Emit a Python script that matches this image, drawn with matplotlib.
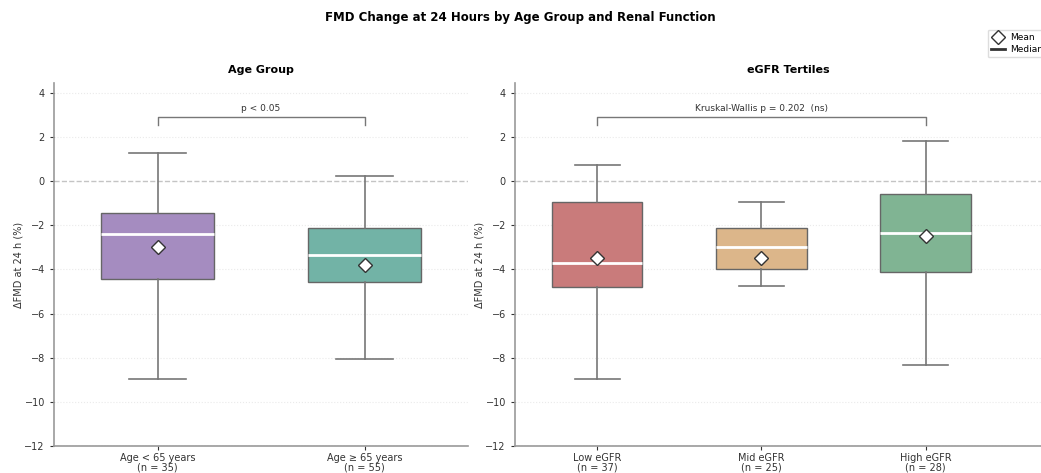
import matplotlib
matplotlib.use("Agg")
import matplotlib.pyplot as plt
from matplotlib.lines import Line2D

# ---- data ----
age_labels = ["Age < 65 years\n(n = 35)", "Age \u2265 65 years\n(n = 55)"]
age_whislo = [-8.95, -8.05]
age_q1 = [-4.45, -4.55]
age_med = [-2.4, -3.35]
age_q3 = [-1.45, -2.1]
age_whishi = [1.3, 0.25]
age_mean = [-3.0, -3.8]
age_colors = ["#a58cc0", "#72b3a6"]
age_ptext = "p < 0.05"

egfr_labels = ["Low eGFR\n(n = 37)", "Mid eGFR\n(n = 25)", "High eGFR\n(n = 28)"]
egfr_whislo = [-8.95, -4.75, -8.35]
egfr_q1 = [-4.8, -4.0, -4.1]
egfr_med = [-3.7, -3.0, -2.35]
egfr_q3 = [-0.95, -2.1, -0.6]
egfr_whishi = [0.75, -0.95, 1.8]
egfr_mean = [-3.5, -3.5, -2.5]
egfr_colors = ["#c97b7b", "#dcb68a", "#80b493"]
egfr_ptext = "Kruskal-Wallis p = 0.202  (ns)"

yticks = [4, 2, 0, -2, -4, -6, -8, -10, -12]

W, H = 1041, 473
fig = plt.figure(figsize=(W / 100, H / 100), dpi=100)

def px_axes(x0, x1, y0, y1):
    return fig.add_axes([x0 / W, 1 - y1 / H, (x1 - x0) / W, (y1 - y0) / H])

ax1 = px_axes(54, 468, 83, 446)
ax2 = px_axes(515, 1062, 83, 446)

def draw(ax, labels, lo, q1, med, q3, hi, mean, colors, ptext, title, xmax):
    stats = []
    for i in range(len(labels)):
        stats.append(dict(whislo=lo[i], q1=q1[i], med=med[i], q3=q3[i],
                          whishi=hi[i], mean=mean[i], fliers=[], label=labels[i]))
    pos = list(range(len(labels)))
    bp = ax.bxp(stats, positions=pos, widths=0.55, patch_artist=True,
                showmeans=True, showfliers=False, capwidths=0.275,
                boxprops=dict(edgecolor="#666666", linewidth=1.0),
                whiskerprops=dict(color="#777777", linewidth=1.2),
                capprops=dict(color="#777777", linewidth=1.2),
                medianprops=dict(color="white", linewidth=2.0),
                meanprops=dict(marker="D", markerfacecolor="white",
                               markeredgecolor="#333333", markersize=7.5,
                               markeredgewidth=1.0))
    for patch, c in zip(bp["boxes"], colors):
        patch.set_facecolor(c)
        patch.set_alpha(1.0)
    ax.set_xlim(-0.5, xmax)
    ax.set_ylim(-12, 4.45)
    ax.set_yticks(yticks)
    ax.set_yticklabels([str(t).replace("-", "\u2212") for t in yticks])
    ax.set_xticks(pos)
    ax.set_xticklabels(labels, fontsize=7, color="#333333", linespacing=0.95)
    ax.tick_params(axis="y", labelsize=7, colors="#333333", length=3)
    ax.tick_params(axis="x", length=3, colors="#333333", pad=2)
    for t in yticks:
        if t == 0:
            ax.axhline(0, color="#c4c4c4", lw=1.0, ls="--", zorder=0)
        else:
            ax.axhline(t, color="#eaeaea", lw=0.8, ls=":", zorder=0)
    for s in ["top", "right"]:
        ax.spines[s].set_visible(False)
    for s in ["left", "bottom"]:
        ax.spines[s].set_color("#999999")
        ax.spines[s].set_linewidth(1.2)
    ax.set_ylabel("\u0394FMD at 24 h (%)", fontsize=7, color="#333333", labelpad=1)
    ax.set_title(title, fontsize=8, fontweight="bold", pad=7)
    x0, x1 = pos[0], pos[-1]
    ax.plot([x0, x0, x1, x1], [2.55, 2.9, 2.9, 2.55], color="#777777", lw=1.0)
    ax.text((x0 + x1) / 2, 3.1, ptext, ha="center", va="bottom", fontsize=6.5,
            color="#333333")

draw(ax1, age_labels, age_whislo, age_q1, age_med, age_q3, age_whishi,
     age_mean, age_colors, age_ptext, "Age Group", 1.5)
draw(ax2, egfr_labels, egfr_whislo, egfr_q1, egfr_med, egfr_q3, egfr_whishi,
     egfr_mean, egfr_colors, egfr_ptext, "eGFR Tertiles", 2.83)

fig.suptitle("FMD Change at 24 Hours by Age Group and Renal Function",
             fontsize=8.5, fontweight="bold", x=0.5, y=1 - 18 / H, va="center")

handles = [Line2D([], [], marker="D", ls="none", markerfacecolor="white",
                  markeredgecolor="#333333", markersize=7, label="Mean"),
           Line2D([], [], color="#333333", lw=2, label="Median")]
fig.legend(handles=handles, loc="upper left", bbox_to_anchor=(983 / W, 1 - 25 / H),
           fontsize=6.5, frameon=True, handlelength=1.5, borderpad=0.4,
           labelspacing=0.3, handletextpad=0.6, framealpha=1,
           edgecolor="#dddddd")

fig.savefig("out.png", dpi=100)
